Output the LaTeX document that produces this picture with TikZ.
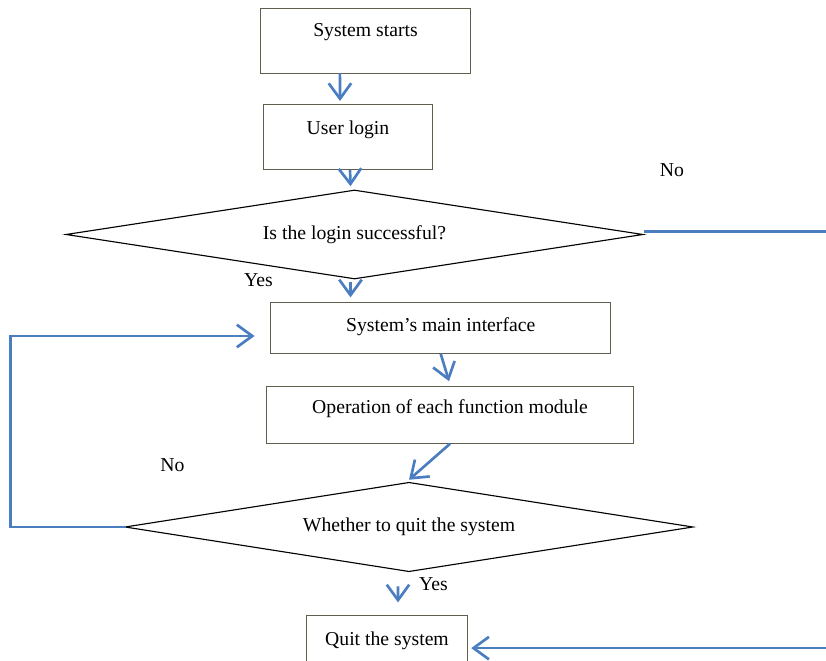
\documentclass[tikz,border=0pt]{standalone}
\usepackage{fontspec}
\setmainfont{Liberation Serif}
\usepackage{xcolor}
\usepackage{tikz}
\usetikzlibrary{shapes.geometric,arrows.meta}

\definecolor{flowblue}{RGB}{74,126,193}
\definecolor{boxline}{RGB}{98,94,78}

\tikzset{
  procbox/.style={draw=boxline, line width=0.7pt, inner xsep=2pt, inner ysep=0pt},
  decision/.style={diamond, draw=black, line width=0.8pt, inner sep=0pt, aspect=6.5},
  flow/.style={draw=flowblue, line width=1.9pt, -{Straight Barb[length=11pt,width=16pt]}},
  tag/.style={anchor=base, inner sep=0pt}
}

\begin{document}
\begin{tikzpicture}[x=0.025cm, y=-0.025cm, font=\fontsize{14}{17}\selectfont]
      % Canvas
      \useasboundingbox (0,0) rectangle (826,661);
      \clip (0,0) rectangle (826,661);

      % Process boxes
      \node[procbox, minimum width=5.225cm, text height=0.7cm, text depth=0.9cm] (start) at (365.5,41) {System starts};
      \node[procbox, minimum width=4.2cm, text height=0.75cm, text depth=0.875cm] (login) at (348,136.8) {User login};
      \node[procbox, minimum width=8.5cm, text height=0.725cm, text depth=0.54cm] (main) at (440.7,328) {System’s main interface};
      \node[procbox, minimum width=9.165cm, text height=0.667cm, text depth=0.748cm] (op) at (450,415) {Operation of each function module};
      \node[procbox, minimum width=4.015cm, text height=0.74cm, text depth=0.76cm] (quit) at (387,645.7) {Quit the system};

      % Decisions
      \node[decision, minimum width=14.425cm, minimum height=2.225cm] (loginq) at (354.5,234.5) {Is the login successful?};
      \node[decision, minimum width=14.2cm, minimum height=2.235cm] (quitq) at (409,527) {Whether to quit the system};

      % Labels
      \node[tag] (yes1) at (258.5,286.7) {Yes};
      \node[tag] (no1) at (672,176.7) {No};
      \node[tag] (no2) at (172.5,471.7) {No};
      \node[tag] (yes2) at (433.5,590) {Yes};

      % Arrows
      \draw[flow] ([xshift=-0.64cm]start.south) -- ([xshift=-0.2cm,yshift=0.07cm]login.north);
      \draw[flow] ([xshift=0.05cm]login.south) -- ([xshift=-0.1cm,yshift=0.08cm]loginq.north);
      \draw[flow] ([xshift=-0.1cm,yshift=-0.05cm]loginq.south) -- ([xshift=-0.1cm,yshift=0.12cm]main.north -| loginq.south);
      \draw[flow] (main.south) -- ([xshift=-0.025cm,yshift=0.125cm]op.north);
      \draw[flow] (op.south) -- ([yshift=0.05cm]quitq.north);
      \draw[flow] ([xshift=-0.275cm,yshift=-0.35cm]quitq.south) -- ([xshift=0.275cm,yshift=0.32cm]quit.north);
      \draw[flow] ([xshift=0.05cm]quitq.west) -- ++(-116,0) |- ([xshift=-0.39cm,yshift=-0.2cm]main.west);
      \draw[flow] ([yshift=0.07cm]loginq.east) -- ++(190,0) |- ([xshift=0.085cm,yshift=-0.06cm]quit.east);
\end{tikzpicture}
\end{document}
